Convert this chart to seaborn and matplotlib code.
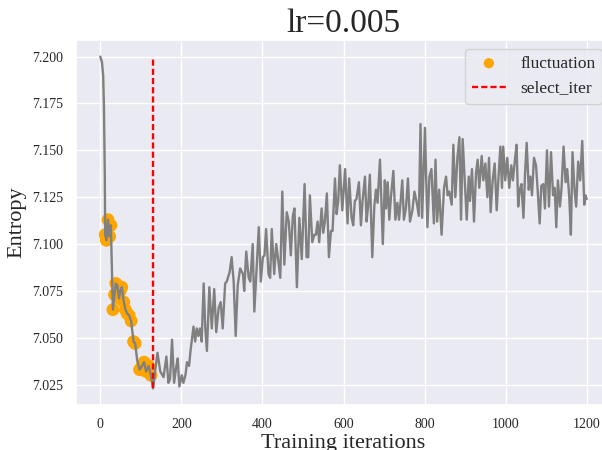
import matplotlib
matplotlib.use("Agg")
import matplotlib.pyplot as plt
import seaborn as sns
import pandas as pd

# ---- data ----
iters = [0, 4, 7, 9, 11, 12, 15, 19, 23, 26, 31, 35, 38, 42, 46, 49, 53, 58, 62, 66, 71, 76,
         82, 86, 91, 97, 103, 108, 113, 119, 125, 130,
         134, 141, 148, 156, 163, 168, 172, 177, 182, 187, 191, 195, 201, 205, 210, 214, 219,
         223, 230, 234, 238, 242, 246, 250, 255, 259, 263, 269, 275, 281, 286, 292, 297, 302,
         308, 312, 319, 324, 329, 334, 339, 345, 352, 355, 360, 366, 370, 376, 380, 386, 391,
         396, 401, 405, 409, 415, 419, 423, 429, 434, 438, 444, 449, 454, 460, 465, 470, 475,
         479, 485, 491, 497, 504, 509, 513, 517, 523, 528, 532, 536, 540, 546, 550, 554, 559,
         564, 569, 573, 579, 583, 587, 591, 597, 604, 610, 614, 620, 624, 628, 632, 638, 643,
         647, 653, 657, 661, 665, 671, 676, 680, 684, 690, 697, 702, 705, 709, 713, 717, 723,
         728, 733, 737, 741, 745, 749, 754, 759, 764, 770, 775, 780, 786,
         790, 794, 801, 807, 812, 817, 823, 827, 831, 836, 842, 848, 853, 857, 861, 867, 871,
         876, 881, 886, 890, 894, 899, 904, 909, 912, 917, 922, 927, 931, 935, 941, 945, 950,
         955, 959, 963, 968, 973, 978, 982, 987, 991, 994, 999, 1004, 1009, 1014, 1018, 1023,
         1027, 1031, 1035, 1039, 1044, 1048, 1052, 1057, 1061, 1065, 1070, 1075, 1079, 1084,
         1088, 1093, 1097, 1102, 1107, 1112, 1117, 1121, 1125, 1129, 1134, 1138, 1143, 1148,
         1152, 1157, 1161, 1165, 1170, 1174, 1179, 1184, 1189, 1194, 1197, 1200]

entropy = [7.200, 7.197, 7.190, 7.173, 7.137, 7.105, 7.102, 7.113, 7.104, 7.110, 7.065, 7.073,
           7.079, 7.078, 7.071, 7.075, 7.077, 7.069, 7.065, 7.063, 7.062, 7.059,
           7.048, 7.047, 7.038, 7.033, 7.035, 7.037, 7.032, 7.035, 7.030, 7.023,
           7.030, 7.042, 7.032, 7.029, 7.040, 7.026, 7.028, 7.049, 7.026, 7.034, 7.039, 7.024,
           7.030, 7.026, 7.030, 7.037, 7.035, 7.044, 7.056, 7.048, 7.055, 7.051, 7.055, 7.048,
           7.079, 7.055, 7.043, 7.077, 7.055, 7.076, 7.053, 7.066, 7.069, 7.055, 7.079, 7.080,
           7.085, 7.093, 7.080, 7.051, 7.078, 7.087, 7.084, 7.075, 7.096, 7.082, 7.080, 7.100,
           7.064, 7.089, 7.109, 7.080, 7.093, 7.094, 7.108, 7.084, 7.082, 7.108, 7.084, 7.100,
           7.093, 7.082, 7.128, 7.089, 7.117, 7.112, 7.094, 7.115, 7.119, 7.077, 7.114, 7.092,
           7.132, 7.093, 7.093, 7.126, 7.101, 7.105, 7.105, 7.112, 7.101, 7.119, 7.106, 7.112,
           7.127, 7.093, 7.107, 7.107, 7.135, 7.116, 7.123, 7.142, 7.118, 7.140, 7.111, 7.135,
           7.114, 7.110, 7.123, 7.124, 7.133, 7.110, 7.123, 7.136, 7.112, 7.121, 7.137, 7.093,
           7.120, 7.129, 7.122, 7.145, 7.100, 7.134, 7.119, 7.133, 7.113, 7.125, 7.139, 7.113,
           7.122, 7.113, 7.123, 7.134, 7.113, 7.119, 7.135, 7.112, 7.118, 7.128, 7.123, 7.115,
           7.164, 7.114, 7.162, 7.109, 7.136, 7.140, 7.111, 7.145, 7.112, 7.129, 7.105, 7.130,
           7.136, 7.126, 7.128, 7.121, 7.153, 7.125, 7.146, 7.157, 7.113, 7.156, 7.134, 7.113,
           7.136, 7.123, 7.140, 7.112, 7.138, 7.145, 7.130, 7.147, 7.134, 7.143, 7.125, 7.146,
           7.117, 7.134, 7.143, 7.118, 7.134, 7.152, 7.130, 7.152, 7.134, 7.146, 7.130, 7.142,
           7.134, 7.145, 7.153, 7.120, 7.129, 7.132, 7.114, 7.138, 7.154, 7.129, 7.136, 7.126,
           7.146, 7.142, 7.129, 7.111, 7.131, 7.132, 7.119, 7.150, 7.120, 7.149, 7.126, 7.130,
           7.109, 7.134, 7.120, 7.130, 7.152, 7.133, 7.140, 7.125, 7.105, 7.149, 7.129, 7.120,
           7.144, 7.134, 7.155, 7.121, 7.126, 7.124]

fluct_iters = [12, 15, 19, 23, 26, 31, 35, 38, 42, 46, 49, 53, 58, 62, 66, 71, 76,
               82, 86, 97, 103, 108, 113, 119, 125]

select_iter = 130

title = "lr=0.005"
x_label = "Training iterations"
y_label = "Entropy"

# ---- build tables ----
df = pd.DataFrame({"iter": iters, "entropy": entropy})
lookup = dict(zip(iters, entropy))
df_f = pd.DataFrame({"iter": fluct_iters, "entropy": [lookup[i] for i in fluct_iters]})

sns.set_theme(style="darkgrid")
plt.rcParams["font.family"] = ["Liberation Serif", "DejaVu Serif"]

fig = plt.figure(figsize=(6.02, 4.5), dpi=100)
ax = fig.add_axes([76 / 602, 0.10, 535 / 602, 0.8111])

sns.scatterplot(data=df_f, x="iter", y="entropy", color="orange", s=85,
                edgecolor="none", label="fluctuation", ax=ax, zorder=2)
sns.lineplot(data=df, x="iter", y="entropy", color="gray", linewidth=1.7,
             ax=ax, zorder=3, legend=False)
ax.vlines(select_iter, min(entropy), max(entropy), colors="red",
          linestyles=(0, (2.6, 1.3)), linewidth=1.7, label="select_iter", zorder=4)

ax.set_title(title, fontsize=24)
ax.set_xlabel(x_label, fontsize=16, labelpad=2)
ax.set_ylabel(y_label, fontsize=16)
ax.tick_params(labelsize=10)
ax.yaxis.set_major_formatter(matplotlib.ticker.FormatStrFormatter("%.3f"))
ax.legend(loc="upper right", fontsize=12.5, markerscale=0.8)

fig.savefig("out.png", dpi=100)
